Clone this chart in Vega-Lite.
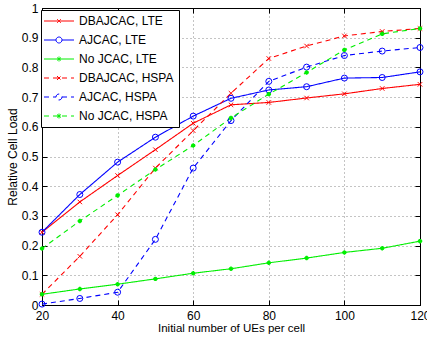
{
  "$schema": "https://vega.github.io/schema/vega-lite/v6.json",
  "width": 378,
  "height": 297,
  "autosize": {"type": "none"},
  "padding": {"left": 42, "top": 8, "right": 7, "bottom": 33},
  "background": "white",
  "config": {
    "font": "Liberation Sans",
    "view": {"stroke": "black", "strokeWidth": 1},
    "axis": {
      "domainColor": "black", "tickColor": "black", "labelColor": "black", "titleColor": "black",
      "labelFontSize": 12, "titleFontSize": 12, "titleFontWeight": "normal",
      "gridColor": "#888", "gridDash": [1, 3], "gridOpacity": 1, "tickSize": -5, "labelFlush": false
    },
    "legend": {
      "strokeColor": "black", "fillColor": "white", "padding": 5,
      "labelFontSize": 12, "labelColor": "black", "rowPadding": 7,
      "symbolSize": 100, "symbolStrokeWidth": 1, "symbolOpacity": 1, "labelOffset": 21
    }
  },
  "data": {"values": [
    {"x": 20, "y": 0.245, "series": "DBAJCAC, LTE"}, {"x": 30, "y": 0.347, "series": "DBAJCAC, LTE"}, {"x": 40, "y": 0.436, "series": "DBAJCAC, LTE"}, {"x": 50, "y": 0.523, "series": "DBAJCAC, LTE"}, {"x": 60, "y": 0.612, "series": "DBAJCAC, LTE"}, {"x": 70, "y": 0.674, "series": "DBAJCAC, LTE"}, {"x": 80, "y": 0.682, "series": "DBAJCAC, LTE"}, {"x": 90, "y": 0.697, "series": "DBAJCAC, LTE"}, {"x": 100, "y": 0.711, "series": "DBAJCAC, LTE"}, {"x": 110, "y": 0.729, "series": "DBAJCAC, LTE"}, {"x": 120, "y": 0.743, "series": "DBAJCAC, LTE"},
    {"x": 20, "y": 0.245, "series": "AJCAC, LTE"}, {"x": 30, "y": 0.372, "series": "AJCAC, LTE"}, {"x": 40, "y": 0.481, "series": "AJCAC, LTE"}, {"x": 50, "y": 0.565, "series": "AJCAC, LTE"}, {"x": 60, "y": 0.636, "series": "AJCAC, LTE"}, {"x": 70, "y": 0.696, "series": "AJCAC, LTE"}, {"x": 80, "y": 0.724, "series": "AJCAC, LTE"}, {"x": 90, "y": 0.735, "series": "AJCAC, LTE"}, {"x": 100, "y": 0.764, "series": "AJCAC, LTE"}, {"x": 110, "y": 0.766, "series": "AJCAC, LTE"}, {"x": 120, "y": 0.785, "series": "AJCAC, LTE"},
    {"x": 20, "y": 0.036, "series": "No JCAC, LTE"}, {"x": 30, "y": 0.054, "series": "No JCAC, LTE"}, {"x": 40, "y": 0.070, "series": "No JCAC, LTE"}, {"x": 50, "y": 0.088, "series": "No JCAC, LTE"}, {"x": 60, "y": 0.107, "series": "No JCAC, LTE"}, {"x": 70, "y": 0.122, "series": "No JCAC, LTE"}, {"x": 80, "y": 0.142, "series": "No JCAC, LTE"}, {"x": 90, "y": 0.158, "series": "No JCAC, LTE"}, {"x": 100, "y": 0.177, "series": "No JCAC, LTE"}, {"x": 110, "y": 0.191, "series": "No JCAC, LTE"}, {"x": 120, "y": 0.215, "series": "No JCAC, LTE"},
    {"x": 20, "y": 0.036, "series": "DBAJCAC, HSPA"}, {"x": 30, "y": 0.164, "series": "DBAJCAC, HSPA"}, {"x": 40, "y": 0.304, "series": "DBAJCAC, HSPA"}, {"x": 50, "y": 0.461, "series": "DBAJCAC, HSPA"}, {"x": 60, "y": 0.587, "series": "DBAJCAC, HSPA"}, {"x": 70, "y": 0.713, "series": "DBAJCAC, HSPA"}, {"x": 80, "y": 0.830, "series": "DBAJCAC, HSPA"}, {"x": 90, "y": 0.872, "series": "DBAJCAC, HSPA"}, {"x": 100, "y": 0.906, "series": "DBAJCAC, HSPA"}, {"x": 110, "y": 0.921, "series": "DBAJCAC, HSPA"}, {"x": 120, "y": 0.931, "series": "DBAJCAC, HSPA"},
    {"x": 20, "y": 0.003, "series": "AJCAC, HSPA"}, {"x": 30, "y": 0.022, "series": "AJCAC, HSPA"}, {"x": 40, "y": 0.043, "series": "AJCAC, HSPA"}, {"x": 50, "y": 0.221, "series": "AJCAC, HSPA"}, {"x": 60, "y": 0.461, "series": "AJCAC, HSPA"}, {"x": 70, "y": 0.621, "series": "AJCAC, HSPA"}, {"x": 80, "y": 0.753, "series": "AJCAC, HSPA"}, {"x": 90, "y": 0.801, "series": "AJCAC, HSPA"}, {"x": 100, "y": 0.840, "series": "AJCAC, HSPA"}, {"x": 110, "y": 0.855, "series": "AJCAC, HSPA"}, {"x": 120, "y": 0.867, "series": "AJCAC, HSPA"},
    {"x": 20, "y": 0.190, "series": "No JCAC, HSPA"}, {"x": 30, "y": 0.283, "series": "No JCAC, HSPA"}, {"x": 40, "y": 0.369, "series": "No JCAC, HSPA"}, {"x": 50, "y": 0.456, "series": "No JCAC, HSPA"}, {"x": 60, "y": 0.537, "series": "No JCAC, HSPA"}, {"x": 70, "y": 0.630, "series": "No JCAC, HSPA"}, {"x": 80, "y": 0.710, "series": "No JCAC, HSPA"}, {"x": 90, "y": 0.783, "series": "No JCAC, HSPA"}, {"x": 100, "y": 0.859, "series": "No JCAC, HSPA"}, {"x": 110, "y": 0.913, "series": "No JCAC, HSPA"}, {"x": 120, "y": 0.931, "series": "No JCAC, HSPA"}
  ]},
  "resolve": {"axis": {"x": "independent", "y": "independent"}},
  "layer": [
    {
      "mark": {"type": "point", "filled": false, "opacity": 0, "size": 100},
      "encoding": {
        "x": {"field": "x", "type": "quantitative", "scale": {"domain": [20, 120], "nice": false, "zero": false},
              "axis": {"orient": "top", "values": [20, 40, 60, 80, 100, 120], "labels": false, "title": null, "grid": false}},
        "y": {"field": "y", "type": "quantitative", "scale": {"domain": [0, 1], "nice": false},
              "axis": {"orient": "right", "values": [0, 0.1, 0.2, 0.3, 0.4, 0.5, 0.6, 0.7, 0.8, 0.9, 1], "labels": false, "title": null, "grid": false}},
        "color": {"field": "series", "type": "nominal",
                  "scale": {"domain": ["DBAJCAC, LTE", "AJCAC, LTE", "No JCAC, LTE", "DBAJCAC, HSPA", "AJCAC, HSPA", "No JCAC, HSPA"], "range": ["#ff0000", "#0000ff", "#00ee00", "#ff0000", "#0000ff", "#00ee00"]},
                  "legend": {"title": null, "orient": "none", "legendX": -1, "legendY": 2, "symbolOpacity": 1}},
        "strokeDash": {"field": "series", "type": "nominal",
                  "scale": {"domain": ["DBAJCAC, LTE", "AJCAC, LTE", "No JCAC, LTE", "DBAJCAC, HSPA", "AJCAC, HSPA", "No JCAC, HSPA"], "range": [[1, 0], [1, 0], [1, 0], [5, 4], [5, 4], [5, 4]]},
                  "legend": {"title": null, "orient": "none", "legendX": -1, "legendY": 2, "symbolOpacity": 1}},
        "shape": {"field": "series", "type": "nominal",
                  "legend": {"title": null, "orient": "none", "legendX": -1, "legendY": 2, "symbolOpacity": 1},
                  "scale": {"domain": ["DBAJCAC, LTE", "AJCAC, LTE", "No JCAC, LTE", "DBAJCAC, HSPA", "AJCAC, HSPA", "No JCAC, HSPA"],
                            "range": [
                              "M-1.6,0H4.4M1,-0.4L1.8,0.4M1,0.4L1.8,-0.4",
                              "M-1.6,0H0.8M2,0H4.4M2,0A0.6,0.6 0 1,1 0.8,0A0.6,0.6 0 1,1 2,0",
                              "M-1.6,0H4.4M1.4,-0.5V0.5M1,-0.3L1.8,0.3M1,0.3L1.8,-0.3",
                              "M-1.6,0H4.4M1,-0.4L1.8,0.4M1,0.4L1.8,-0.4",
                              "M-1.6,0H0.8M2,0H4.4M2,0A0.6,0.6 0 1,1 0.8,0A0.6,0.6 0 1,1 2,0",
                              "M-1.6,0H4.4M1.4,-0.5V0.5M1,-0.3L1.8,0.3M1,0.3L1.8,-0.3"
                            ]}}
      }
    },
    {
      "mark": {"type": "line", "strokeWidth": 1.1},
      "encoding": {
        "x": {"field": "x", "type": "quantitative",
              "axis": {"orient": "bottom", "values": [20, 40, 60, 80, 100, 120], "title": "Initial number of UEs per cell", "labelPadding": 10, "titlePadding": 1, "titleFontSize": 11.5, "grid": true}},
        "y": {"field": "y", "type": "quantitative",
              "axis": {"orient": "left", "values": [0, 0.1, 0.2, 0.3, 0.4, 0.5, 0.6, 0.7, 0.8, 0.9, 1], "format": "~g", "title": "Relative Cell Load", "labelPadding": 9, "titlePadding": 2, "grid": true}},
        "color": {"field": "series", "type": "nominal"},
        "strokeDash": {"field": "series", "type": "nominal"}
      }
    },
    {
      "transform": [{"filter": {"field": "series", "oneOf": ["DBAJCAC, LTE", "DBAJCAC, HSPA"]}}],
      "mark": {"type": "point", "shape": "M-1,-1L1,1M-1,1L1,-1", "size": 20, "filled": false, "strokeWidth": 1, "opacity": 1},
      "encoding": {
        "x": {"field": "x", "type": "quantitative", "axis": null},
        "y": {"field": "y", "type": "quantitative", "axis": null},
        "color": {"field": "series", "type": "nominal"}
      }
    },
    {
      "transform": [{"filter": {"field": "series", "oneOf": ["AJCAC, LTE", "AJCAC, HSPA"]}}],
      "mark": {"type": "point", "shape": "circle", "size": 36, "filled": false, "strokeWidth": 1, "opacity": 1},
      "encoding": {
        "x": {"field": "x", "type": "quantitative", "axis": null},
        "y": {"field": "y", "type": "quantitative", "axis": null},
        "color": {"field": "series", "type": "nominal"}
      }
    },
    {
      "transform": [{"filter": {"field": "series", "oneOf": ["No JCAC, LTE", "No JCAC, HSPA"]}}],
      "mark": {"type": "point", "shape": "M0,-1V1M-1,0H1M-0.8,-0.5L0.8,0.5M-0.8,0.5L0.8,-0.5", "size": 20, "filled": false, "strokeWidth": 1.6, "opacity": 1},
      "encoding": {
        "x": {"field": "x", "type": "quantitative", "axis": null},
        "y": {"field": "y", "type": "quantitative", "axis": null},
        "color": {"field": "series", "type": "nominal"}
      }
    }
  ]
}
